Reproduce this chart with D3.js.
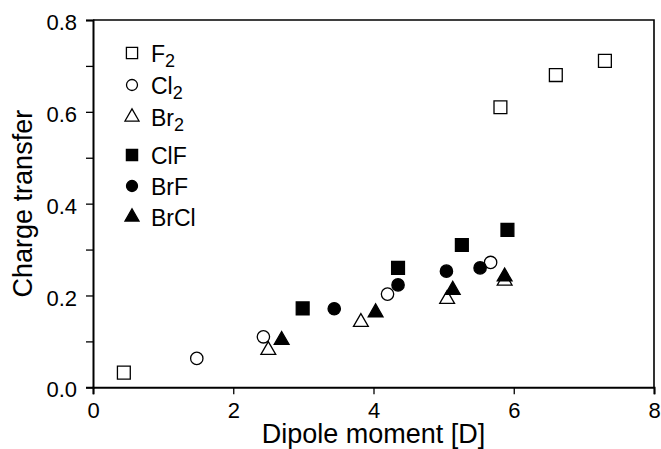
<!DOCTYPE html>
<html>
<head>
<meta charset="utf-8">
<script src="https://cdn.jsdelivr.net/npm/d3@7/dist/d3.min.js"></script>
<style>
  html, body { margin: 0; padding: 0; background: #fff; }
  svg { display: block; font-family: "Liberation Sans", Arial, sans-serif; }
</style>
</head>
<body>
<svg id="chart" width="661" height="449"></svg>
<script>
// ---- data ----
const seriesNames = ["F2", "Cl2", "Br2", "ClF", "BrF", "BrCl"];
const legendMain = ["F", "Cl", "Br", "ClF", "BrF", "BrCl"];
const legendSub  = ["2", "2", "2", "", "", ""];
const F2_x   = [0.44, 5.81, 6.60, 7.30];
const F2_y   = [0.032, 0.610, 0.680, 0.711];
const Cl2_x  = [1.48, 2.43, 4.20, 5.67];
const Cl2_y  = [0.063, 0.110, 0.203, 0.272];
const Br2_x  = [2.50, 3.82, 5.05, 5.87];
const Br2_y  = [0.081, 0.142, 0.192, 0.232];
const ClF_x  = [2.99, 4.35, 5.26, 5.91];
const ClF_y  = [0.172, 0.260, 0.310, 0.343];
const BrF_x  = [3.44, 4.35, 5.04, 5.52];
const BrF_y  = [0.171, 0.223, 0.253, 0.260];
const BrCl_x = [2.69, 4.03, 5.13, 5.87];
const BrCl_y = [0.103, 0.163, 0.212, 0.241];
const xTicks = [0, 2, 4, 6, 8];
const yTicks = [0, 0.1, 0.2, 0.3, 0.4, 0.5, 0.6, 0.7, 0.8];
const yLabelTicks = [0, 0.2, 0.4, 0.6, 0.8];
const xTitle = "Dipole moment [D]";
const yTitle = "Charge transfer";

const seriesX = [F2_x, Cl2_x, Br2_x, ClF_x, BrF_x, BrCl_x];
const seriesY = [F2_y, Cl2_y, Br2_y, ClF_y, BrF_y, BrCl_y];
const shapes = [d3.symbolSquare, d3.symbolCircle, d3.symbolTriangle, d3.symbolSquare, d3.symbolCircle, d3.symbolTriangle];
const filled = [false, false, false, true, true, true];

// ---- layout ----
const pLeft = 93, pRight = 654, pTop = 20, pBottom = 387.3;
const svg = d3.select("#chart");
const x = d3.scaleLinear().domain([0, 8]).range([pLeft, pRight]);
const y = d3.scaleLinear().domain([0, 0.8]).range([pBottom, pTop]);

const sizeFor = (s, legend) => {
  if (s === d3.symbolSquare) return legend ? 125 : 165;
  if (s === d3.symbolCircle) return legend ? 95 : 120;
  return legend ? 85 : 95;
};

// frame (top & right)
svg.append("path")
  .attr("d", `M${pLeft},${pTop}H${pRight}V${pBottom}`)
  .attr("fill", "none").attr("stroke", "#000").attr("stroke-width", 1.6);

// x axis
const xAxis = d3.axisBottom(x).tickValues(xTicks).tickFormat(d3.format("d"))
  .tickSize(7).tickPadding(8);
const gx = svg.append("g").attr("transform", `translate(0,${pBottom})`).call(xAxis);
gx.select(".domain").attr("stroke-width", 2);
gx.selectAll(".tick line").attr("stroke-width", 1.3);
gx.selectAll(".tick text").attr("font-size", 22).attr("font-family", "Liberation Sans, Arial, sans-serif").attr("fill", "#000");

// y axis
const yAxis = d3.axisLeft(y).tickValues(yTicks)
  .tickFormat(d => yLabelTicks.some(v => Math.abs(v - d) < 1e-9) ? d3.format(".1f")(d) : "")
  .tickSize(7).tickPadding(9);
const gy = svg.append("g").attr("transform", `translate(${pLeft},0)`).call(yAxis);
gy.select(".domain").attr("stroke-width", 2);
gy.selectAll(".tick line").attr("stroke-width", 1.3);
gy.selectAll(".tick text").attr("font-size", 22).attr("dy", "0.44em")
  .attr("font-family", "Liberation Sans, Arial, sans-serif").attr("fill", "#000");

// axis titles
svg.append("text").attr("x", (pLeft + pRight) / 2).attr("y", 443)
  .attr("text-anchor", "middle").attr("font-size", 27).text(xTitle);
svg.append("text").attr("transform", `translate(32,${(pTop + pBottom) / 2}) rotate(-90)`)
  .attr("text-anchor", "middle").attr("font-size", 27).text(yTitle);

// points
seriesNames.forEach((name, i) => {
  const pts = seriesX[i].map((v, j) => [v, seriesY[i][j]]);
  svg.append("g").selectAll("path").data(pts).join("path")
    .attr("transform", d => `translate(${x(d[0])},${y(d[1])})`)
    .attr("d", d3.symbol().type(shapes[i]).size(sizeFor(shapes[i], false)))
    .attr("fill", filled[i] ? "#000" : "#fff")
    .attr("stroke", "#000").attr("stroke-width", 1.3);
});

// legend
const legendRowY = [53, 85, 117, 155, 186, 217];
const lg = svg.append("g");
seriesNames.forEach((name, i) => {
  const row = lg.append("g").attr("transform", `translate(0,${legendRowY[i]})`);
  row.append("path").attr("transform", "translate(132,0)")
    .attr("d", d3.symbol().type(shapes[i]).size(sizeFor(shapes[i], true)))
    .attr("fill", filled[i] ? "#000" : "#fff")
    .attr("stroke", "#000").attr("stroke-width", 1.3);
  const t = row.append("text").attr("x", 151).attr("y", 8.5).attr("font-size", 23);
  t.append("tspan").text(legendMain[i]);
  if (legendSub[i]) t.append("tspan").attr("dy", 5).attr("font-size", 18).text(legendSub[i]);
});
</script>
</body>
</html>
